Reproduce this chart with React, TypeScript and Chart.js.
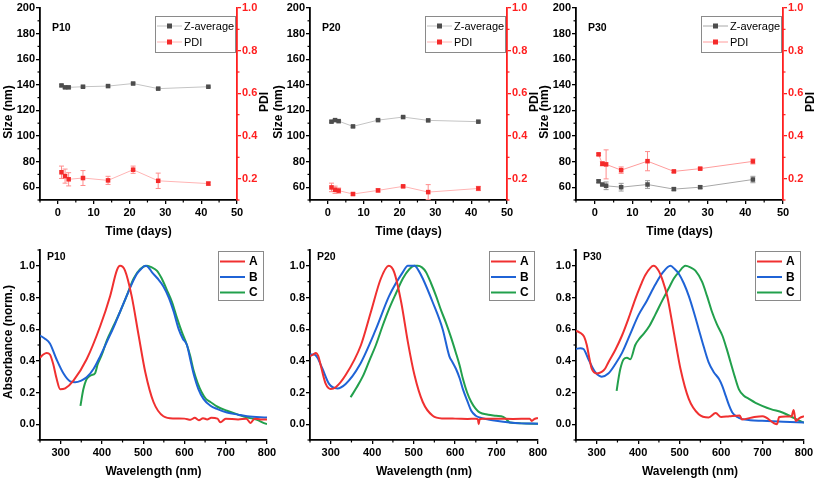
import { useEffect, useRef } from 'react';
import { Chart, registerables } from 'chart.js';

Chart.register(...registerables);

const FONT = '"Liberation Sans", Arial, Helvetica, sans-serif';

// ---------- axes ----------
const days = [1, 2, 3, 7, 14, 21, 28, 42];
const timeTicks = [0, 10, 20, 30, 40, 50];
const timeMinor = [-5, 5, 15, 25, 35, 45];
const sizeTicks = [60, 80, 100, 120, 140, 160, 180, 200];
const sizeMinor = [50, 70, 90, 110, 130, 150, 170, 190];
const pdiTicks = [0.2, 0.4, 0.6, 0.8, 1.0];
const pdiMinor = [0.1, 0.3, 0.5, 0.7, 0.9];
const wlTicks = [300, 400, 500, 600, 700, 800];
const wlMinor = [250, 350, 450, 550, 650, 750];
const absTicks = [0, 0.2, 0.4, 0.6, 0.8, 1.0];
const absMinor = [-0.1, 0.1, 0.3, 0.5, 0.7, 0.9, 1.1];

// ---------- DLS data ----------
const p10Size = [139.5, 138, 138, 138.5, 139, 141, 137, 138.5];
const p10SizeErr = [0.6, 0.8, 0.6, 0.5, 0.6, 0.5, 0.5, 0.5];
const p10Pdi = [0.23, 0.212, 0.197, 0.203, 0.192, 0.242, 0.19, 0.177];
const p10PdiErr = [0.029, 0.033, 0.031, 0.035, 0.019, 0.017, 0.036, 0.007];

const p20Size = [111.2, 112.4, 111.6, 107.5, 112.4, 114.8, 112.2, 111.2];
const p20SizeErr = [0.6, 0.5, 0.5, 0.6, 0.5, 0.6, 0.5, 0.5];
const p20Pdi = [0.159, 0.148, 0.144, 0.128, 0.145, 0.164, 0.137, 0.154];
const p20PdiErr = [0.02, 0.017, 0.012, 0.005, 0.007, 0.005, 0.035, 0.01];

const p30Size = [64.6, 62.1, 61.1, 60, 62.1, 58.5, 60, 66];
const p30SizeErr = [1, 0.5, 3, 3, 3, 1, 1, 2.5];
const p30Pdi = [0.314, 0.27, 0.267, 0.24, 0.282, 0.234, 0.247, 0.281];
const p30PdiErr = [0.005, 0.01, 0.068, 0.015, 0.045, 0.005, 0.005, 0.012];

// ---------- UV-vis data ----------
const p10AWl = [250, 258, 266, 274, 282, 290, 299, 311, 331, 363, 396, 420, 436, 444, 456, 472, 489, 505, 525, 549, 574, 600, 615, 625, 635, 645, 655, 665, 680, 687, 700, 730, 750, 760, 770, 785, 800];
const p10A = [0.42, 0.44, 0.45, 0.44, 0.38, 0.29, 0.22, 0.226, 0.275, 0.41, 0.62, 0.81, 0.97, 1.0, 0.97, 0.81, 0.56, 0.33, 0.14, 0.05, 0.036, 0.035, 0.028, 0.04, 0.025, 0.038, 0.03, 0.04, 0.035, 0.012, 0.035, 0.03, 0.035, 0.008, 0.035, 0.03, 0.03];
const p10BWl = [250, 262, 274, 290, 307, 323, 335, 350, 363, 380, 396, 412, 428, 444, 460, 475, 485, 495, 505, 513, 521, 535, 549, 562, 574, 586, 596, 606, 614, 622, 634, 646, 663, 680, 703, 730, 752, 800];
const p10B = [0.56, 0.54, 0.51, 0.41, 0.32, 0.27, 0.264, 0.275, 0.296, 0.35, 0.43, 0.52, 0.61, 0.71, 0.81, 0.9, 0.95, 0.98, 1.0, 0.99, 0.96, 0.92, 0.87, 0.8, 0.71, 0.6, 0.54, 0.5, 0.41, 0.32, 0.22, 0.16, 0.116, 0.095, 0.074, 0.06, 0.05, 0.042];
const p10CWl = [348, 355, 362, 368, 375, 383, 390, 400, 412, 428, 444, 460, 477, 493, 509, 521, 533, 545, 557, 570, 582, 594, 606, 614, 622, 632, 642, 652, 663, 680, 703, 730, 752, 765, 776, 790, 800];
const p10C = [0.116, 0.22, 0.28, 0.3, 0.31, 0.32, 0.38, 0.44, 0.53, 0.62, 0.71, 0.81, 0.92, 0.98, 1.0, 0.99, 0.97, 0.92, 0.85, 0.77, 0.67, 0.58, 0.5, 0.43, 0.34, 0.26, 0.2, 0.16, 0.14, 0.11, 0.085, 0.06, 0.042, 0.035, 0.027, 0.01, 0.0];

const p20AWl = [250, 258, 264, 270, 276, 288, 300, 312, 336, 373, 397, 421, 440, 453, 470, 486, 502, 522, 546, 570, 600, 630, 650, 655, 657, 659, 665, 700, 740, 780, 785, 790, 800];
const p20A = [0.43, 0.44, 0.45, 0.43, 0.37, 0.254, 0.222, 0.233, 0.31, 0.5, 0.71, 0.92, 1.0, 0.96, 0.77, 0.52, 0.31, 0.14, 0.053, 0.036, 0.035, 0.033, 0.035, 0.03, 0.0, 0.03, 0.035, 0.035, 0.033, 0.035, 0.02, 0.03, 0.04];
const p20BWl = [250, 260, 268, 280, 296, 316, 336, 369, 409, 441, 474, 486, 494, 502, 512, 522, 546, 570, 586, 594, 602, 611, 619, 629, 639, 649, 659, 680, 699, 732, 760, 800];
const p20B = [0.44, 0.44, 0.42, 0.35, 0.254, 0.226, 0.254, 0.37, 0.6, 0.81, 0.96, 1.0, 1.0, 1.0, 0.97, 0.92, 0.77, 0.6, 0.43, 0.39, 0.35, 0.29, 0.22, 0.15, 0.085, 0.055, 0.042, 0.03, 0.021, 0.01, 0.005, 0.003];
const p20CWl = [348, 362, 377, 393, 409, 425, 441, 458, 474, 490, 502, 510, 520, 530, 542, 554, 566, 578, 590, 602, 611, 619, 629, 639, 649, 659, 680, 699, 716, 724, 732, 760, 800];
const p20C = [0.17, 0.23, 0.3, 0.4, 0.5, 0.62, 0.73, 0.83, 0.92, 0.98, 1.0, 1.0, 0.99, 0.96, 0.89, 0.81, 0.72, 0.64, 0.55, 0.45, 0.37, 0.285, 0.2, 0.14, 0.1, 0.074, 0.06, 0.053, 0.046, 0.03, 0.01, 0.005, 0.002];

const p30AWl = [250, 258, 264, 270, 276, 282, 288, 300, 312, 320, 328, 345, 361, 377, 393, 405, 417, 437, 449, 460, 470, 486, 502, 522, 546, 570, 587, 600, 620, 645, 650, 680, 700, 735, 740, 770, 775, 780, 790, 800];
const p30A = [0.59, 0.58, 0.57, 0.55, 0.5, 0.42, 0.35, 0.32, 0.33, 0.35, 0.39, 0.47, 0.56, 0.67, 0.79, 0.87, 0.94, 1.0, 0.97, 0.9, 0.81, 0.58, 0.35, 0.16, 0.063, 0.042, 0.07, 0.045, 0.05, 0.055, 0.03, 0.045, 0.05, 0.0, 0.045, 0.05, 0.09, 0.02, 0.04, 0.05];
const p30BWl = [250, 260, 268, 280, 296, 312, 328, 345, 361, 381, 401, 421, 441, 460, 478, 488, 498, 510, 522, 534, 546, 558, 570, 582, 595, 603, 611, 619, 627, 639, 651, 670, 699, 750, 800];
const p30B = [0.475, 0.48, 0.475, 0.41, 0.33, 0.3, 0.32, 0.38, 0.45, 0.57, 0.69, 0.78, 0.88, 0.96, 1.0, 0.98, 0.95, 0.89, 0.81, 0.71, 0.6, 0.49, 0.39, 0.33, 0.285, 0.24, 0.18, 0.12, 0.074, 0.045, 0.032, 0.025, 0.021, 0.015, 0.01];
const p30CWl = [348, 352, 357, 365, 373, 381, 393, 403, 413, 427, 441, 458, 474, 486, 498, 514, 526, 538, 554, 566, 578, 590, 603, 613, 623, 633, 643, 655, 667, 683, 699, 720, 748, 775, 790, 800];
const p30C = [0.21, 0.28, 0.35, 0.41, 0.42, 0.41, 0.5, 0.54, 0.57, 0.62, 0.69, 0.78, 0.86, 0.92, 0.96, 1.0, 0.99, 0.97, 0.9, 0.81, 0.71, 0.63, 0.56, 0.48, 0.39, 0.3, 0.22, 0.18, 0.16, 0.135, 0.116, 0.095, 0.074, 0.04, 0.02, 0.01];

const RED = '#f03030';
const BLUE = '#1f63d6';
const GREEN = '#22a04c';
const AXIS_RED = '#ff1f1f';

const tickFont = { family: FONT, size: 11, weight: 'bold' as const };
const titleFont = { family: FONT, size: 12, weight: 'bold' as const };

type LegendItem = { text: string; line: string; marker?: string };
type DecoCfg = {
  minor: { axis: string; values: number[]; color: string }[];
  errors: { dataset: number; x: number[]; y: number[]; err: number[]; color: string }[];
  label: string;
  labelDx: number;
  labelDy: number;
  leftTitle?: string;
  leftTitleDy: number;
  rightTitle?: string;
  legend: { kind: 'dls' | 'spec'; items: LegendItem[]; dx: number; dy: number; w: number; h: number; first: number; step: number };
};

function makeDeco(cfg: DecoCfg) {
  return {
    id: 'deco',
    beforeDatasetsDraw(chart: any) {
      const ctx = chart.ctx;
      const xs = chart.scales.x;
      cfg.errors.forEach((e) => {
        const meta = chart.getDatasetMeta(e.dataset);
        const ys = chart.scales[meta.yAxisID];
        ctx.save();
        ctx.strokeStyle = e.color;
        ctx.lineWidth = 1;
        e.x.forEach((xv, i) => {
          const px = xs.getPixelForValue(xv);
          const y0 = ys.getPixelForValue(e.y[i] - e.err[i]);
          const y1 = ys.getPixelForValue(e.y[i] + e.err[i]);
          ctx.beginPath();
          ctx.moveTo(px, y0);
          ctx.lineTo(px, y1);
          ctx.moveTo(px - 2.5, y0);
          ctx.lineTo(px + 2.5, y0);
          ctx.moveTo(px - 2.5, y1);
          ctx.lineTo(px + 2.5, y1);
          ctx.stroke();
        });
        ctx.restore();
      });
    },
    afterDraw(chart: any) {
      const ctx = chart.ctx;
      const a = chart.chartArea;
      ctx.save();
      // minor ticks
      cfg.minor.forEach((m) => {
        const s = chart.scales[m.axis];
        ctx.strokeStyle = m.color;
        ctx.lineWidth = 1.2;
        m.values.forEach((v) => {
          const p = s.getPixelForValue(v);
          ctx.beginPath();
          if (s.position === 'bottom') {
            ctx.moveTo(p, a.bottom);
            ctx.lineTo(p, a.bottom + 2.5);
          } else if (s.position === 'left') {
            ctx.moveTo(a.left, p);
            ctx.lineTo(a.left - 2.5, p);
          } else {
            ctx.moveTo(a.right, p);
            ctx.lineTo(a.right + 2.5, p);
          }
          ctx.stroke();
        });
      });
      // panel label
      ctx.fillStyle = '#000';
      ctx.font = `bold 10.5px ${FONT}`;
      ctx.textAlign = 'left';
      ctx.textBaseline = 'middle';
      ctx.fillText(cfg.label, a.left + cfg.labelDx, a.top + cfg.labelDy);
      // titles
      ctx.font = `bold 12px ${FONT}`;
      ctx.textAlign = 'center';
      if (cfg.leftTitle) {
        ctx.save();
        ctx.translate(a.left - 31, (a.top + a.bottom) / 2 + cfg.leftTitleDy);
        ctx.rotate(-Math.PI / 2);
        ctx.fillText(cfg.leftTitle, 0, 0);
        ctx.restore();
      }
      if (cfg.rightTitle) {
        ctx.save();
        ctx.translate(a.right + 28, (a.top + a.bottom) / 2 - 2);
        ctx.rotate(-Math.PI / 2);
        ctx.fillText(cfg.rightTitle, 0, 0);
        ctx.restore();
      }
      // legend
      const L = cfg.legend;
      const bx = Math.round(a.right + L.dx - L.w);
      const by = Math.round(a.top + L.dy);
      ctx.fillStyle = '#fff';
      ctx.fillRect(bx, by, L.w, L.h);
      ctx.strokeStyle = '#8a8a8a';
      ctx.lineWidth = 1;
      ctx.strokeRect(bx + 0.5, by + 0.5, L.w, L.h);
      L.items.forEach((it, i) => {
        const y = by + L.first + i * L.step;
        ctx.strokeStyle = it.line;
        ctx.lineWidth = L.kind === 'dls' ? 1 : 2;
        ctx.beginPath();
        ctx.moveTo(bx + 2, y);
        ctx.lineTo(bx + 27, y);
        ctx.stroke();
        if (it.marker) {
          ctx.fillStyle = it.marker;
          ctx.fillRect(bx + 14.5 - 2.5, y - 2.5, 5, 5);
        }
        ctx.fillStyle = '#000';
        ctx.textAlign = 'left';
        ctx.textBaseline = 'middle';
        ctx.font = L.kind === 'dls' ? `11px ${FONT}` : `bold 12px ${FONT}`;
        ctx.fillText(it.text, bx + (L.kind === 'dls' ? 29 : 31), y + 0.5);
      });
      ctx.restore();
    },
  };
}

function linAxis(p: { position: string; min: number; max: number; ticks: number[]; color: string; size: number; fmt: (v: number) => string; title?: string }) {
  return {
    type: 'linear' as const,
    position: p.position,
    min: p.min,
    max: p.max,
    afterBuildTicks: (s: any) => {
      s.ticks = p.ticks.map((v) => ({ value: v }));
    },
    afterFit: (s: any) => {
      if (p.position === 'bottom') s.height = p.size;
      else s.width = p.size;
    },
    grid: { drawOnChartArea: false, drawTicks: true, tickLength: 4, color: p.color, tickColor: p.color, lineWidth: 1.3, tickWidth: 1.3 },
    border: { display: true, color: p.color, width: 1.8 },
    ticks: { color: p.color, font: tickFont, padding: p.position === 'bottom' ? 2 : 1, maxRotation: 0, autoSkip: false, callback: (v: any) => p.fmt(Number(v)) },
    title: p.title
      ? { display: true, text: p.title, color: '#000', font: titleFont, padding: { top: 0, bottom: 1 } }
      : { display: false },
  };
}

function dlsChart(label: string, size: number[], sizeErr: number[], pdi: number[], pdiErr: number[], rightW: number, zLine: string, pLine: string) {
  return {
    type: 'line' as const,
    data: {
      datasets: [
        {
          label: 'Z-average',
          data: days.map((d, i) => ({ x: d, y: size[i] })),
          yAxisID: 'y',
          borderColor: zLine,
          borderWidth: 1,
          pointStyle: 'rect',
          pointRadius: 3.2,
          pointBackgroundColor: '#4d4d4d',
          pointBorderColor: '#4d4d4d',
          pointBorderWidth: 0,
          tension: 0,
        },
        {
          label: 'PDI',
          data: days.map((d, i) => ({ x: d, y: pdi[i] })),
          yAxisID: 'y1',
          borderColor: pLine,
          borderWidth: 1,
          pointStyle: 'rect',
          pointRadius: 3.2,
          pointBackgroundColor: '#f42a2a',
          pointBorderColor: '#f42a2a',
          pointBorderWidth: 0,
          tension: 0,
        },
      ],
    },
    options: {
      animation: false as const,
      responsive: false,
      events: [],
      layout: { padding: { top: 8, left: 0, right: 0, bottom: 0 } },
      plugins: { legend: { display: false }, tooltip: { enabled: false } },
      scales: {
        x: linAxis({ position: 'bottom', min: -5, max: 50, ticks: timeTicks, color: '#000', size: 40, fmt: (v) => String(v), title: 'Time (days)' }),
        y: linAxis({ position: 'left', min: 50, max: 200, ticks: sizeTicks, color: '#000', size: 40, fmt: (v) => String(v) }),
        y1: linAxis({ position: 'right', min: 0.1, max: 1.0, ticks: pdiTicks, color: AXIS_RED, size: rightW, fmt: (v) => v.toFixed(1) }),
      },
    },
    plugins: [
      makeDeco({
        minor: [
          { axis: 'x', values: timeMinor, color: '#000' },
          { axis: 'y', values: sizeMinor, color: '#000' },
          { axis: 'y1', values: pdiMinor, color: AXIS_RED },
        ],
        errors: [
          { dataset: 0, x: days, y: size, err: sizeErr, color: '#9a9a9a' },
          { dataset: 1, x: days, y: pdi, err: pdiErr, color: '#ff8c8c' },
        ],
        label,
        labelDx: 12,
        labelDy: 20,
        leftTitle: 'Size (nm)',
        leftTitleDy: 8,
        rightTitle: 'PDI',
        legend: {
          kind: 'dls',
          items: [
            { text: 'Z-average', line: zLine, marker: '#4d4d4d' },
            { text: 'PDI', line: pLine, marker: '#f42a2a' },
          ],
          dx: -2,
          dy: 8,
          w: 80,
          h: 36,
          first: 10,
          step: 16,
        },
      }),
    ],
  };
}

function specChart(label: string, aWl: number[], a: number[], bWl: number[], b: number[], cWl: number[], c: number[], yTitle?: string) {
  const ds = (name: string, wl: number[], v: number[], color: string) => ({
    label: name,
    data: wl.map((w, i) => ({ x: w, y: v[i] })),
    borderColor: color,
    borderWidth: 2,
    pointRadius: 0,
    cubicInterpolationMode: 'monotone' as const,
  });
  return {
    type: 'line' as const,
    data: {
      datasets: [ds('A', aWl, a, RED), ds('B', bWl, b, BLUE), ds('C', cWl, c, GREEN)],
    },
    options: {
      animation: false as const,
      responsive: false,
      events: [],
      layout: { padding: { top: 8, left: 0, right: 13, bottom: 0 } },
      plugins: { legend: { display: false }, tooltip: { enabled: false } },
      scales: {
        x: linAxis({ position: 'bottom', min: 250, max: 800, ticks: wlTicks, color: '#000', size: 40, fmt: (v) => String(v), title: 'Wavelength (nm)' }),
        y: linAxis({ position: 'left', min: -0.1, max: 1.1, ticks: absTicks, color: '#000', size: 40, fmt: (v) => v.toFixed(1) }),
      },
    },
    plugins: [
      makeDeco({
        minor: [
          { axis: 'x', values: wlMinor, color: '#000' },
          { axis: 'y', values: absMinor, color: '#000' },
        ],
        errors: [],
        label,
        labelDx: 7,
        labelDy: 7,
        leftTitle: yTitle,
        leftTitleDy: -3,
        legend: {
          kind: 'spec',
          items: [
            { text: 'A', line: RED },
            { text: 'B', line: BLUE },
            { text: 'C', line: GREEN },
          ],
          dx: -4,
          dy: 1,
          w: 45,
          h: 49,
          first: 10.5,
          step: 15.5,
        },
      }),
    ],
  };
}

function Panel({ left, top, width, height, build }: { left: number; top: number; width: number; height: number; build: () => any }) {
  const ref = useRef<HTMLCanvasElement>(null);
  useEffect(() => {
    const chart = new Chart(ref.current as HTMLCanvasElement, build());
    return () => chart.destroy();
  }, []);
  return (
    <canvas
      ref={ref}
      width={width}
      height={height}
      style={{ position: 'absolute', left, top, width, height }}
    />
  );
}

export default function App() {
  return (
    <div style={{ position: 'absolute', left: 0, top: 0, width: 817, height: 480, background: '#fff', overflow: 'hidden' }}>
      <Panel left={0} top={0} width={280} height={240} build={() => dlsChart('P10', p10Size, p10SizeErr, p10Pdi, p10PdiErr, 43, '#c4c4c4', '#ffb4b4')} />
      <Panel left={270} top={0} width={280} height={240} build={() => dlsChart('P20', p20Size, p20SizeErr, p20Pdi, p20PdiErr, 43, '#c4c4c4', '#ffb4b4')} />
      <Panel left={536} top={0} width={281} height={240} build={() => dlsChart('P30', p30Size, p30SizeErr, p30Pdi, p30PdiErr, 34, '#a8a8a8', '#ff9c9c')} />
      <Panel left={0} top={242} width={280} height={238} build={() => specChart('P10', p10AWl, p10A, p10BWl, p10B, p10CWl, p10C, 'Absorbance (norm.)')} />
      <Panel left={270} top={242} width={281} height={238} build={() => specChart('P20', p20AWl, p20A, p20BWl, p20B, p20CWl, p20C)} />
      <Panel left={536} top={242} width={281} height={238} build={() => specChart('P30', p30AWl, p30A, p30BWl, p30B, p30CWl, p30C)} />
    </div>
  );
}
